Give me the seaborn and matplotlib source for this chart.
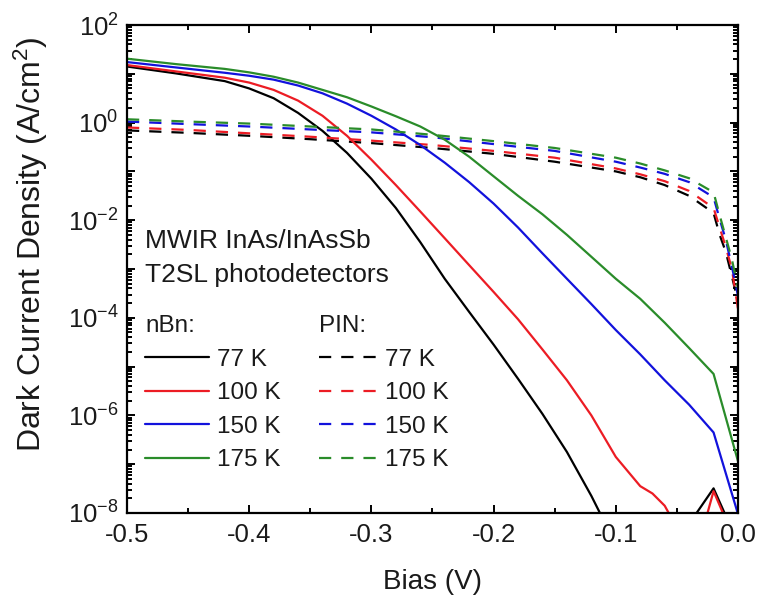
import matplotlib
matplotlib.use("Agg")
import matplotlib.pyplot as plt
from matplotlib.lines import Line2D
from matplotlib.ticker import AutoMinorLocator, LogLocator, NullFormatter
import numpy as np
import pandas as pd
import seaborn as sns

# ---------------- data ----------------
temps = ["77 K", "100 K", "150 K", "175 K"]
colors = ["#000000", "#ec1c24", "#1212dc", "#2a8c2a"]

# nBn (solid)
nbn_77_x = [-0.50, -0.46, -0.42, -0.40, -0.38, -0.36, -0.34, -0.32, -0.30, -0.28, -0.26, -0.24,
            -0.22, -0.20, -0.18, -0.16, -0.14, -0.12, -0.11, -0.06, -0.04, -0.02, 0.0]
nbn_77_y = [14.1, 10.2, 7.08, 5.01, 3.16, 1.58, 0.676, 0.240, 0.0708, 0.0178, 3.55e-3, 6.31e-4,
            1.32e-4, 2.82e-5, 5.62e-6, 1.07e-6, 1.78e-7, 2.24e-8, 7.1e-9, 2.0e-9, 6.0e-9, 3.2e-8, 2.4e-9]

nbn_100_x = [-0.50, -0.46, -0.42, -0.40, -0.38, -0.36, -0.34, -0.32, -0.30, -0.28, -0.26, -0.24, -0.22,
             -0.20, -0.18, -0.16, -0.14, -0.12, -0.10, -0.08, -0.07, -0.06, -0.05, -0.03, -0.02, 0.0]
nbn_100_y = [15.1, 11.2, 8.32, 6.61, 4.68, 2.82, 1.38, 0.537, 0.174, 0.0525, 0.0151, 4.27e-3, 1.20e-3,
             3.39e-4, 9.33e-5, 2.24e-5, 5.25e-6, 1.0e-6, 1.41e-7, 3.55e-8, 2.51e-8, 1.41e-8, 5.0e-9,
             3.5e-9, 2.8e-8, 1.9e-9]

nbn_150_x = [-0.50, -0.46, -0.42, -0.40, -0.38, -0.36, -0.34, -0.32, -0.30, -0.28, -0.26, -0.24,
             -0.22, -0.20, -0.18, -0.16, -0.14, -0.12, -0.10, -0.08, -0.06, -0.04, -0.02, 0.0]
nbn_150_y = [17.4, 13.5, 10.5, 9.12, 7.59, 5.75, 3.98, 2.45, 1.38, 0.724, 0.347, 0.151,
             0.0603, 0.0219, 7.08e-3, 2.09e-3, 6.31e-4, 1.91e-4, 5.62e-5, 1.78e-5, 5.25e-6, 1.66e-6,
             4.47e-7, 9.5e-9]

nbn_175_x = [-0.50, -0.46, -0.42, -0.40, -0.38, -0.36, -0.34, -0.32, -0.30, -0.28, -0.26, -0.24,
             -0.22, -0.20, -0.18, -0.16, -0.14, -0.12, -0.10, -0.08, -0.06, -0.04, -0.02, 0.0]
nbn_175_y = [20.4, 15.8, 12.6, 10.7, 8.71, 6.61, 4.68, 3.31, 2.14, 1.35, 0.832, 0.447,
             0.200, 0.0794, 0.0316, 0.0132, 5.01e-3, 1.78e-3, 6.31e-4, 2.45e-4, 7.94e-5, 2.40e-5,
             7.08e-6, 1.15e-7]

# PIN (dashed)
pin_x = [-0.50, -0.45, -0.40, -0.35, -0.30, -0.25, -0.20, -0.15, -0.10, -0.08, -0.06, -0.04,
         -0.02, -0.015, -0.01, -0.005, 0.0]
pin_77_y = [0.692, 0.617, 0.537, 0.457, 0.380, 0.302, 0.229, 0.158, 0.100, 0.0759, 0.0525, 0.0316,
            0.0141, 5.01e-3, 2.24e-3, 7.08e-4, 2.14e-4]
pin_100_y = [0.794, 0.708, 0.603, 0.513, 0.427, 0.347, 0.263, 0.191, 0.115, 0.0871, 0.0631, 0.0398,
             0.0178, 7.08e-3, 2.82e-3, 1.0e-3, 1.51e-4]
pin_150_y = [1.05, 0.933, 0.832, 0.724, 0.631, 0.501, 0.363, 0.263, 0.158, 0.120, 0.0891, 0.0603,
             0.0295, 0.0105, 3.98e-3, 1.12e-3, 2.82e-4]
pin_175_y = [1.17, 1.05, 0.955, 0.832, 0.724, 0.562, 0.417, 0.302, 0.191, 0.145, 0.105, 0.0724,
             0.0372, 0.0126, 4.47e-3, 1.58e-3, 3.98e-4]

xtick_vals = [-0.5, -0.4, -0.3, -0.2, -0.1, 0.0]
xtick_labels = ["-0.5", "-0.4", "-0.3", "-0.2", "-0.1", "0.0"]
ytick_vals = [1e-8, 1e-7, 1e-6, 1e-5, 1e-4, 1e-3, 1e-2, 1e-1, 1e0, 1e1, 1e2]
ytick_labels = ["10$^{-8}$", "", "10$^{-6}$", "", "10$^{-4}$", "", "10$^{-2}$", "",
                "10$^{0}$", "", "10$^{2}$"]

annotation = "MWIR InAs/InAsSb\nT2SL photodetectors"

# ---------------- build long table ----------------
rows = []
nbn_sets = [(nbn_77_x, nbn_77_y), (nbn_100_x, nbn_100_y), (nbn_150_x, nbn_150_y), (nbn_175_x, nbn_175_y)]
pin_sets = [pin_77_y, pin_100_y, pin_150_y, pin_175_y]
for t, (xs, ys) in zip(temps, nbn_sets):
    for xv, yv in zip(xs, ys):
        rows.append({"Bias": xv, "J": yv, "T": t, "device": "nBn"})
for t, ys in zip(temps, pin_sets):
    for xv, yv in zip(pin_x, ys):
        rows.append({"Bias": xv, "J": yv, "T": t, "device": "PIN"})
df = pd.DataFrame(rows)

# ---------------- style ----------------
sns.set_theme(style="ticks")
plt.rcParams["font.family"] = ["Liberation Sans", "DejaVu Sans"]
plt.rcParams["mathtext.fontset"] = "custom"
plt.rcParams["mathtext.rm"] = "Liberation Sans"
plt.rcParams["mathtext.default"] = "regular"
plt.rcParams["axes.unicode_minus"] = False

TXT = "#1a1a1a"
fig = plt.figure(figsize=(7.62, 6.01), dpi=100)
ax = fig.add_axes([127 / 762, 1 - 513 / 601, 611 / 762, 488 / 601])

palette = dict(zip(temps, colors))
lw = 1.6
dash = (5.5, 4.5)
sns.lineplot(data=df, x="Bias", y="J", hue="T", style="device",
             hue_order=temps, style_order=["nBn", "PIN"],
             palette=palette, dashes={"nBn": "", "PIN": dash},
             estimator=None, sort=True, legend=False, linewidth=lw, ax=ax)

ax.set_yscale("log")
ax.set_xlim(-0.5, 0.0)
ax.set_ylim(1e-8, 1e2)

ax.set_xticks(xtick_vals, xtick_labels)
ax.xaxis.set_minor_locator(AutoMinorLocator(2))
ax.set_yticks(ytick_vals, ytick_labels)
ax.yaxis.set_minor_locator(LogLocator(base=10, subs=np.arange(2, 10), numticks=100))
ax.yaxis.set_minor_formatter(NullFormatter())

ax.tick_params(which="both", direction="in", top=True, right=True, width=1.4, color="black",
               labelsize=18.5, labelcolor=TXT)
ax.tick_params(which="major", length=6)
ax.tick_params(which="minor", length=3.5)
ax.tick_params(axis="x", pad=7)
ax.tick_params(axis="y", pad=6)
for s in ax.spines.values():
    s.set_linewidth(1.6)
    s.set_color("black")

ax.set_xlabel("Bias (V)", fontsize=20, color=TXT, labelpad=16)
ax.set_ylabel("Dark Current Density (A/cm$^{2}$)", fontsize=23, color=TXT)
ax.yaxis.set_label_coords(-0.126, 0.55)

# annotation text
ax.text(0.03, 0.582, annotation, transform=ax.transAxes, fontsize=19, color=TXT,
        ha="left", va="top", linespacing=1.52)

# legends
solid_handles = [Line2D([], [], color=c, lw=lw) for c in colors]
dashed_handles = [Line2D([], [], color=c, lw=lw, dashes=dash) for c in colors]
leg_kw = dict(frameon=False, fontsize=17.5, title_fontsize=17.5, loc="upper left",
              borderpad=0, borderaxespad=0, handletextpad=0.33,
              labelspacing=0.47, alignment="left", labelcolor=TXT)
leg1 = ax.legend(solid_handles, temps, title="nBn:", bbox_to_anchor=(0.03, 0.405),
                 handlelength=2.63, **leg_kw)
leg1.get_title().set_color(TXT)
ax.add_artist(leg1)
leg2 = ax.legend(dashed_handles, temps, title="PIN:", bbox_to_anchor=(0.314, 0.405),
                 handlelength=2.39, **leg_kw)
leg2.get_title().set_color(TXT)

fig.savefig("out.png", dpi=100)
